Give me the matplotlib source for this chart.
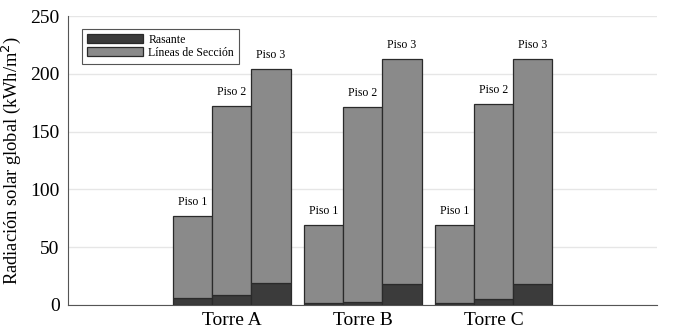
import matplotlib
matplotlib.use("Agg")
import matplotlib.pyplot as plt
import numpy as np

torres = ["Torre A", "Torre B", "Torre C"]
pisos = ["Piso 1", "Piso 2", "Piso 3"]
total = [[77, 172, 204], [69, 171, 213], [69, 174, 213]]
rasante = [[6, 9, 19], [2, 3, 18], [2, 5, 18]]

plt.rcParams['font.family'] = ['Liberation Serif', 'DejaVu Serif']

fig = plt.figure(figsize=(6.79, 3.35), dpi=100)
ax = fig.add_axes([0.100, 0.0896, 0.868, 0.8624])

w = 0.3
centers = np.arange(1, len(torres) + 1)
dark = '#3b3b3b'
mid = '#8a8a8a'
edge = '#2a2a2a'
for i, c in enumerate(centers):
    for j in range(len(pisos)):
        x = c + (j - 1) * w
        r = rasante[i][j]
        s = total[i][j] - r
        ax.bar(x, r, width=w, color=dark, edgecolor=edge, linewidth=0.9,
               label='Rasante' if (i == 0 and j == 0) else None, zorder=3)
        ax.bar(x, s, bottom=r, width=w, color=mid, edgecolor=edge, linewidth=0.9,
               label='Líneas de Sección' if (i == 0 and j == 0) else None, zorder=3)
        ax.text(x, total[i][j] + 7, pisos[j], ha='center', va='bottom', fontsize=8.5)

ax.set_xlim(-0.25, 4.25)
ax.set_ylim(0, 250)
ax.set_yticks([0, 50, 100, 150, 200, 250])
ax.set_xticks(centers)
ax.set_xticklabels(torres, fontsize=14)
ax.tick_params(axis='y', labelsize=14, length=0, pad=6)
ax.tick_params(axis='x', length=0, pad=5)
ax.yaxis.grid(True, color='#e6e6e6', linewidth=1.0, zorder=0)
ax.set_axisbelow(True)
for s in ['top', 'right']:
    ax.spines[s].set_visible(False)
ax.spines['left'].set_color('#555555')
ax.spines['bottom'].set_color('#555555')
ax.set_ylabel('Radiación solar global (kWh/m$^2$)', fontsize=13.3, labelpad=5)

leg = ax.legend(loc='upper left', bbox_to_anchor=(0.024, 0.955), fontsize=8.5,
                fancybox=False, edgecolor='#555555', framealpha=1,
                handlelength=4.8, handleheight=0.8, borderpad=0.4, labelspacing=0.1,
                handletextpad=0.4, borderaxespad=0)
leg.get_frame().set_linewidth(0.8)

fig.savefig('out.png', dpi=100)
